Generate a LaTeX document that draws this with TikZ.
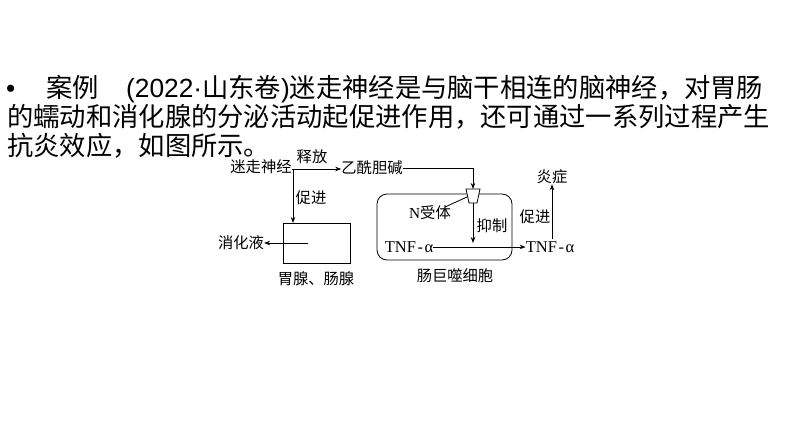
\documentclass[tikz,border=0pt]{standalone}
\usepackage{fontspec}
\usetikzlibrary{arrows.meta}
\newfontfamily\cjk{Noto Sans CJK SC}
\newfontfamily\arialf{Liberation Sans}
\newfontfamily\timesf{Liberation Serif}
\tikzset{
  topline/.style={anchor=base west,inner sep=0pt,font=\fontsize{26.3}{26.3}\selectfont\cjk},
  lbl/.style={inner sep=0pt,font=\fontsize{15.3}{15.3}\selectfont\cjk},
  tnf/.style={inner sep=0pt,font=\fontsize{16.5}{16.5}\selectfont\timesf},
  arr/.style={line width=0.8pt,-{Stealth[length=6pt,width=4.5pt]}},
  ln/.style={line width=0.8pt},
}
\begin{document}
\begin{tikzpicture}[x=1pt,y=-1pt]
\useasboundingbox[fill=white] (0,0) rectangle (794,447);
% top text
\node[topline] (b) at (6,97) {{\arialf •}};
\node[topline] (c) at (46,97) {案例};
\node[topline] (t1) at (126,97) {{\arialf (2022·}山东卷{\arialf )}迷走神经是与脑干相连的脑神经，对胃肠};
\node[topline] (t2) at (7,126) {的蠕动和消化腺的分泌活动起促进作用，还可通过一系列过程产生};
\node[topline] (t3) at (7,155) {抗炎效应，如图所示。};
% diagram
\node[lbl] (mz) at (261,167) {迷走神经};
\node[lbl] (yx) at (372,168) {乙酰胆碱};
\node[lbl] (sf) at (312,157) {释放};
\coordinate (J) at (293,169);
\coordinate (Jb) at (293,223);
\draw[arr] (J) -- (yx.west |- J);
\draw[ln] (mz.east |- J) -- (J);
\draw[arr] (J) -- (Jb);
\node[lbl] (cj1) at (311,198) {促进};
\draw[ln] (283,223) rectangle (350,263);
\node[lbl] (wx) at (316,279) {胃腺、肠腺};
\node[lbl] (xhy) at (241,243) {消化液};
\coordinate (ga) at (308,243);
\draw[arr] (ga) -- (xhy.east);
% macrophage
\draw[ln,rounded corners=10pt] (377,194) rectangle (512,260);
\node[lbl] (jx) at (455,276) {肠巨噬细胞};
\coordinate (K) at (473,168);
\coordinate (rt) at (473,189);
\draw[ln] (yx.east |- K) -- (K);
\draw[arr] (K) -- (rt);
\draw[ln,fill=white] (466,189) -- (480,189) -- (477,203) -- (469,203) -- cycle;
\node[inner sep=0pt] (nr) at (430,213) {{\fontsize{15.3}{15.3}\selectfont\timesf N}\fontsize{15.3}{15.3}\selectfont\cjk 受体};
\draw[ln] (445,207) -- (467,197);
\coordinate (rb) at (473,203);
\coordinate (rc) at (473,243);
\draw[arr] (rb) -- (rc);
\node[lbl] (yz) at (492,226) {抑制};
\node[tnf] (tl) at (409,247) {TNF\kern1.5pt-\kern1.5ptα};
\node[tnf] (tr) at (550,247) {TNF\kern1.5pt-\kern1.5ptα};
\draw[arr] (tl.east) -- (tr.west);
\node[lbl] (yzz) at (552,177) {炎症};
\coordinate (ua) at (552,239);
\draw[arr] (ua) -- (yzz.south);
\node[lbl] (cj2) at (535,217) {促进};
\end{tikzpicture}
\end{document}
